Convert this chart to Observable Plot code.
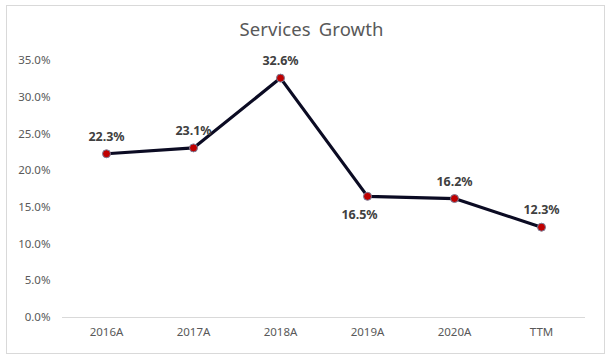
<!DOCTYPE html>
<html>
<head>
<meta charset="utf-8">
<script src="https://cdn.jsdelivr.net/npm/d3@7"></script>
<script src="https://cdn.jsdelivr.net/npm/@observablehq/plot@0.6"></script>
<style>
  html, body { margin: 0; padding: 0; background: #fff; }
  #wrap { position: relative; width: 613px; height: 362px; overflow: hidden; font-family: "Noto Sans", "Open Sans", sans-serif; }
  #border { position: absolute; left: 6px; top: 5px; width: 599px; height: 349px; border: 1px solid #d9d9d9; box-sizing: border-box; pointer-events: none; }
  #title { position: absolute; left: 5px; width: 613px; top: 16px; text-align: center; font-size: 18.5px; color: #595959; letter-spacing: 0.1px; word-spacing: 3px; }
  #chart { position: absolute; left: 0; top: 0; }
</style>
</head>
<body>
<div id="wrap">
  <div id="border"></div>
  <div id="title">Services Growth</div>
  <div id="chart"></div>
</div>
<script>
const categories = ["2016A", "2017A", "2018A", "2019A", "2020A", "TTM"];
const growth = [0.223, 0.231, 0.326, 0.165, 0.162, 0.123];
const yTicks = [0, 0.05, 0.10, 0.15, 0.20, 0.25, 0.30, 0.35];
const labelBelow = ["2019A"];

const data = categories.map((c, i) => ({category: c, value: growth[i]}));
const fmt = d3.format(".1%");
const above = data.filter(d => !labelBelow.includes(d.category));
const below = data.filter(d => labelBelow.includes(d.category));

const chart = Plot.plot({
  width: 613,
  height: 362,
  marginLeft: 62,
  marginRight: 28,
  marginTop: 60,
  marginBottom: 45,
  style: {fontFamily: "'Noto Sans', sans-serif", fontSize: "11.5px", color: "#595959", background: "transparent"},
  x: {type: "point", domain: categories, padding: 0.5, label: null, tickSize: 0, tickPadding: 10},
  y: {domain: [0, 0.35], ticks: yTicks, tickFormat: d3.format(".1%"), label: null, tickSize: 0, tickPadding: 12},
  marks: [
    Plot.ruleY([0], {stroke: "#d9d9d9", strokeWidth: 1}),
    Plot.line(data, {x: "category", y: "value", stroke: "#0b0b23", strokeWidth: 3.2}),
    Plot.dot(data, {x: "category", y: "value", r: 4, fill: "#c00000", stroke: "#7a7f9a", strokeWidth: 1}),
    Plot.text(above, {x: "category", y: "value", text: d => fmt(d.value), dy: -17, fontWeight: "bold", fontSize: 12.5, fill: "#404040"}),
    Plot.text(below, {x: "category", y: "value", text: d => fmt(d.value), dy: 19, dx: -8, fontWeight: "bold", fontSize: 12.5, fill: "#404040"})
  ]
});
document.getElementById("chart").appendChild(chart);
</script>
</body>
</html>
